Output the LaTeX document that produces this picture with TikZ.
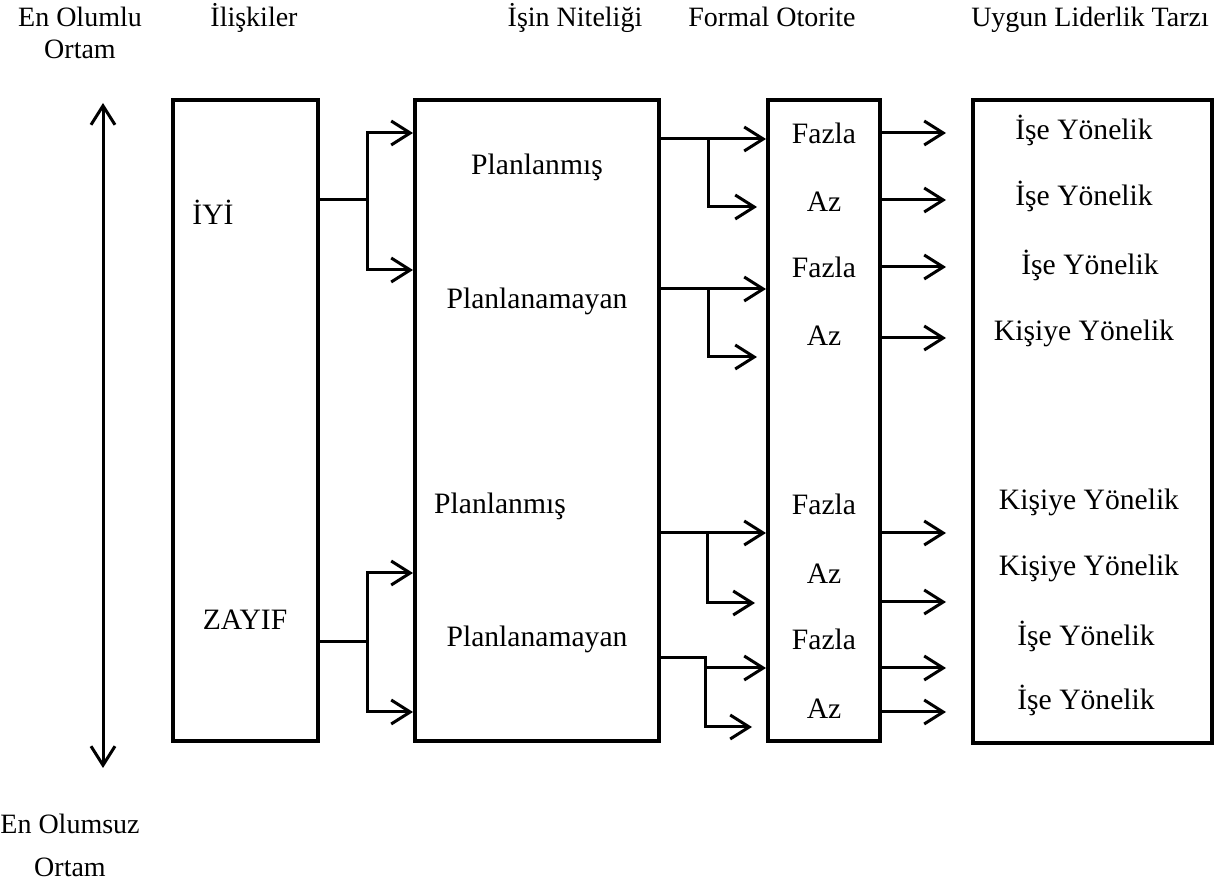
\documentclass[tikz,border=0pt]{standalone}
\usepackage{fontspec}
\setmainfont{Liberation Serif}
\usetikzlibrary{arrows.meta,positioning,calc,fit}

\tikzset{
  box/.style={draw,line width=2pt,inner sep=0pt},
  lbl/.style={inner sep=0pt,text height=0.66em,text depth=0pt,font=\fontsize{14}{16}\selectfont},
  blbl/.style={lbl,font=\fontsize{14.8}{17}\selectfont},
  con/.style={line width=1.5pt},
}

\begin{document}
\begin{tikzpicture}[x=0.5pt,y=-0.5pt,>={Straight Barb[length=9.5pt,width=12pt]}]
\useasboundingbox (0,0) rectangle (1221,886);
% headers
\node[lbl] (enol) at (80,20) {En Olumlu};
\node[lbl] (enolb) at (80,52) {Ortam};
\node[lbl] (hrel) at (254,20) {İlişkiler};
\node[lbl] (hnit) at (575,20) {İşin Niteliği};
\node[lbl] (hot) at (772,20) {Formal Otorite};
\node[lbl] (hlid) at (1090,20) {Uygun Liderlik Tarzı};
\node[lbl] (enols) at (70,827) {En Olumsuz};
\node[lbl] (enolsb) at (70,870) {Ortam};
\coordinate (top) at (103,103);\coordinate (bot) at (103,768);
\draw[con,<->] (top)--(bot);
% boxes
\node[box,fit={(173,100) (318,741)}] (rel) {};
\node[box,fit={(415,100) (659,741)}] (nit) {};
\node[box,fit={(768,100) (880,741)}] (ot) {};
\node[box,fit={(973,100) (1212,743)}] (lid) {};
\node[blbl] (iyi) at (213,218) {İYİ};
\node[blbl] (zayif) at (245,623) {ZAYIF};
\node[blbl] (p1) at (537,168) {Planlanmış};
\node[blbl] (p2) at (537,302) {Planlanamayan};
\node[blbl] (p3) at (500,507) {Planlanmış};
\node[blbl] (p4) at (537,640) {Planlanamayan};
\node[blbl] (o1) at (824,137) {Fazla};\node[blbl] (o2) at (824,205) {Az};
\node[blbl] (o3) at (824,271) {Fazla};\node[blbl] (o4) at (824,339) {Az};
\node[blbl] (o5) at (824,508) {Fazla};\node[blbl] (o6) at (824,577) {Az};
\node[blbl] (o7) at (824,643) {Fazla};\node[blbl] (o8) at (824,712) {Az};
\node[blbl] (l1) at (1084,133) {İşe Yönelik};
\node[blbl] (l2) at (1084,199) {İşe Yönelik};
\node[blbl] (l3) at (1090,268) {İşe Yönelik};
\node[blbl] (l4) at (1084,334) {Kişiye Yönelik};
\node[blbl] (l5) at (1089,503) {Kişiye Yönelik};
\node[blbl] (l6) at (1089,569) {Kişiye Yönelik};
\node[blbl] (l7) at (1086,639) {İşe Yönelik};
\node[blbl] (l8) at (1086,703) {İşe Yönelik};
% iliskiler -> is
\coordinate (s1) at (367,200);\coordinate (f1a) at (367,133);\coordinate (f1b) at (367,270);
\draw[con] (rel.east |- s1)--(s1);
\draw[con,<->] (f1a -| nit.west)--(f1a)--(f1b)--(f1b -| nit.west);
\coordinate (s2) at (367,642);\coordinate (f2a) at (367,573);\coordinate (f2b) at (367,712);
\draw[con] (rel.east |- s2)--(s2);
\draw[con,<->] (f2a -| nit.west)--(f2a)--(f2b)--(f2b -| nit.west);
% is -> otorite
\coordinate (g1) at (708,139);\coordinate (g1e) at (757,207);
\draw[con,->] (nit.east |- g1)--(g1 -| ot.west);\draw[con,->] (g1) |- (g1e);
\coordinate (g2) at (708,289);\coordinate (g2e) at (757,357);
\draw[con,->] (nit.east |- g2)--(g2 -| ot.west);\draw[con,->] (g2) |- (g2e);
\coordinate (g3) at (707,533);\coordinate (g3e) at (755,603);
\draw[con,->] (nit.east |- g3)--(g3 -| ot.west);\draw[con,->] (g3) |- (g3e);
\coordinate (g4) at (705,658);\coordinate (g4m) at (705,668);\coordinate (g4e) at (752,727);
\draw[con,->] (nit.east |- g4)--(g4) |- (g4e);\draw[con,->] (g4m)--(g4m -| ot.west);
% otorite -> liderlik
\foreach \y [count=\i] in {133,200,267,338,533,602,668,712}{
  \coordinate (e\i) at (946,\y);
  \draw[con,->] (ot.east |- e\i)--(e\i);
}
\end{tikzpicture}
\end{document}
